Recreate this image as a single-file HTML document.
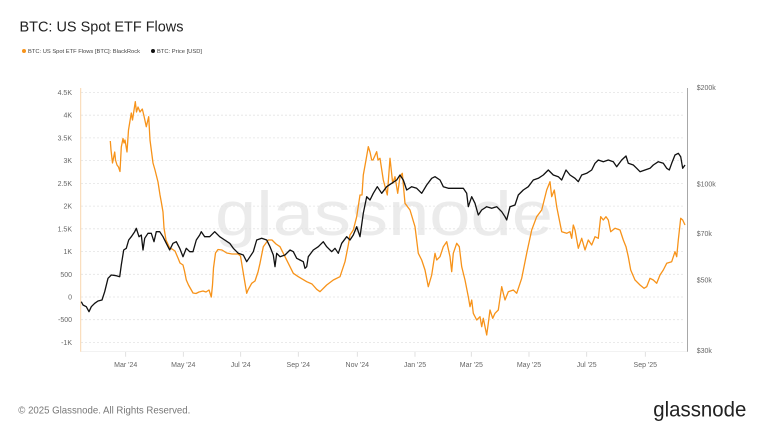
<!DOCTYPE html>
<html><head><meta charset="utf-8"><style>
html,body{margin:0;padding:0;background:#fff;}
svg{display:block;font-family:"Liberation Sans",sans-serif;}
</style></head><body>
<svg width="768" height="432" viewBox="0 0 768 432" xmlns="http://www.w3.org/2000/svg">
<rect width="768" height="432" fill="#fff"/>
<text x="19.5" y="31.7" font-size="14.6" fill="#222" textLength="164" lengthAdjust="spacingAndGlyphs">BTC: US Spot ETF Flows</text>
<circle cx="24" cy="51" r="2" fill="#f7931a"/>
<text x="28" y="53" font-size="5.8" fill="#444" textLength="112" lengthAdjust="spacingAndGlyphs">BTC: US Spot ETF Flows [BTC]: BlackRock</text>
<circle cx="153" cy="51" r="2" fill="#111"/>
<text x="157" y="53" font-size="5.8" fill="#444" textLength="45" lengthAdjust="spacingAndGlyphs">BTC: Price [USD]</text>

<text x="215" y="235" font-size="62" fill="#ebebeb" textLength="338" lengthAdjust="spacingAndGlyphs">glassnode</text>

<g stroke="#e3e3e3" stroke-width="0.8" stroke-dasharray="2 2">
<line x1="81" y1="92.5" x2="685" y2="92.5"/>
<line x1="81" y1="115.2" x2="685" y2="115.2"/>
<line x1="81" y1="137.9" x2="685" y2="137.9"/>
<line x1="81" y1="160.6" x2="685" y2="160.6"/>
<line x1="81" y1="183.4" x2="685" y2="183.4"/>
<line x1="81" y1="206.1" x2="685" y2="206.1"/>
<line x1="81" y1="228.8" x2="685" y2="228.8"/>
<line x1="81" y1="251.5" x2="685" y2="251.5"/>
<line x1="81" y1="274.3" x2="685" y2="274.3"/>
<line x1="81" y1="297" x2="685" y2="297"/>
<line x1="81" y1="319.7" x2="685" y2="319.7"/>
<line x1="81" y1="342.5" x2="685" y2="342.5"/>
</g>
<line x1="81" y1="351.5" x2="687" y2="351.5" stroke="#eeeeee" stroke-width="0.8"/>
<g stroke="#d8d8d8" stroke-width="0.8">
<line x1="125.7" y1="352" x2="125.7" y2="356.7"/>
<line x1="183.3" y1="352" x2="183.3" y2="356.7"/>
<line x1="240.7" y1="352" x2="240.7" y2="356.7"/>
<line x1="298.3" y1="352" x2="298.3" y2="356.7"/>
<line x1="357.3" y1="352" x2="357.3" y2="356.7"/>
<line x1="415" y1="352" x2="415" y2="356.7"/>
<line x1="471.3" y1="352" x2="471.3" y2="356.7"/>
<line x1="529" y1="352" x2="529" y2="356.7"/>
<line x1="586.7" y1="352" x2="586.7" y2="356.7"/>
<line x1="645.3" y1="352" x2="645.3" y2="356.7"/>
</g>
<line x1="80.7" y1="88" x2="80.7" y2="351.7" stroke="#f8d6ad" stroke-width="1"/>
<line x1="687.5" y1="88" x2="687.5" y2="351.7" stroke="#a8a8a8" stroke-width="1"/>

<g font-size="7" fill="#666" text-anchor="end">
<text x="72" y="95">4.5K</text>
<text x="72" y="117.7">4K</text>
<text x="72" y="140.4">3.5K</text>
<text x="72" y="163.1">3K</text>
<text x="72" y="185.9">2.5K</text>
<text x="72" y="208.6">2K</text>
<text x="72" y="231.3">1.5K</text>
<text x="72" y="254">1K</text>
<text x="72" y="276.8">500</text>
<text x="72" y="299.5">0</text>
<text x="72" y="322.2">-500</text>
<text x="72" y="345">-1K</text>
</g>
<g font-size="7" fill="#666">
<text x="696.7" y="89.8">$200k</text>
<text x="696.7" y="186.5">$100k</text>
<text x="696.7" y="235.8">$70k</text>
<text x="696.7" y="282.5">$50k</text>
<text x="696.7" y="353.2">$30k</text>
</g>
<g font-size="7" fill="#666" text-anchor="middle">
<text x="125.7" y="366.8">Mar '24</text>
<text x="183.3" y="366.8">May '24</text>
<text x="240.7" y="366.8">Jul '24</text>
<text x="298.3" y="366.8">Sep '24</text>
<text x="357.3" y="366.8">Nov '24</text>
<text x="415" y="366.8">Jan '25</text>
<text x="471.3" y="366.8">Mar '25</text>
<text x="529" y="366.8">May '25</text>
<text x="586.7" y="366.8">Jul '25</text>
<text x="645.3" y="366.8">Sep '25</text>
</g>

<polyline fill="none" stroke="#f7931a" stroke-width="1.3" stroke-linejoin="round" points="110.3,141 111,150 112.5,163 114.7,152 115.5,160 117,165 118.5,167 120,171.5 121.3,147 123,138.5 124,143 125,140 127,152 128.5,130 131.3,113 132.5,120 135.3,101.7 136.5,112 138,107 140,112 142.3,109 144,116 146.3,126.7 148.7,116.7 150,140 153,163 155,170 158,182 160,195 161.3,202 163,212 164,228 166,240 169.7,248 172,249 175,251 178,258 180,263 183,265 184.5,271 186.3,280 188.5,285 193,293 196,293.5 199,292 203,291 206,292 209,290 211.3,297 212.5,285 213.5,268 215.5,253 218,249.5 222,250 226.7,253 232,254 238,254 240.5,256 243.3,273 246.7,293.3 248,290 251.7,283.3 255,281 258,272 260,263.3 263.3,246.7 266,243 268.3,240 272,240 276,244 280,246.7 285,256.7 290,266.7 293.3,273.3 298.3,276.7 306.7,281.7 312,284 316.7,289.3 320,291.7 326.7,285 333.3,280 340,276.7 345,261.7 348.3,245 350,235 353.3,230 356.7,216.7 360,195 362,195 363.3,175 366,160 368.3,146.7 370,152 371.7,160 373,160 376.7,151.7 378,160 380,158.3 383.3,180 387.3,195 390,158.3 392.7,183.3 395,176.7 397.7,193.3 400,176.7 402.3,173.3 405,203.3 410,210 415,226.7 418.3,253.3 421.7,260 425,270 428.3,286.7 431.7,275 435,253.3 436.7,260 440,256.7 443.3,246.7 446.7,241.7 450,256.7 451.7,271.7 453.3,253.3 456.7,243.3 459.3,246.7 461.7,266.7 465,280 468.3,296.7 470,306.7 471.7,300 473.3,313.3 476.7,320 480,316.7 481.7,326.7 483.3,318.3 486.7,335 488.3,323.3 490,310 492.7,318.3 495,313.3 498.3,310 501.7,286.7 503.3,293.3 505,300 508.3,291.7 513.3,290 516.7,293.3 521.7,278.3 526.7,253.3 531.7,230 536.7,216.7 541.7,210 546.7,190 550,181.7 551.7,196.7 554.3,190 556.7,206.7 560,223.3 561.7,231.7 566.7,233.3 570,231.7 571.7,238.3 573.3,225 575,230 578.3,248.3 581.7,238.3 585,250 588.3,240 591.7,245 595,236.7 598.3,238.3 600.7,216.7 603.3,220 606,216.7 608.3,220 610.7,231.7 615,228.3 620,230 623.3,240 626,246.7 628.3,256.7 630.7,270 635,280 640,285 644,288.3 646.7,286.7 650,278.3 653.3,280 656.7,283.3 660,275 663.3,270 666.7,263.3 671.7,261.7 675,251.7 676.7,256.7 678.3,240 680.7,218.3 682.7,220 685,225"/>

<polyline fill="none" stroke="#111" stroke-width="1.3" stroke-linejoin="round" points="81.3,301.7 83,305 86.3,306.7 89,311.7 91.3,306.7 94.7,303.3 98,301 102,300 104.7,291.7 108,278.3 111.3,275 116.3,275.7 119.7,276.7 121.3,265 123.7,250 126.3,248.3 128.7,240 131.3,236.7 134.7,231.7 136.3,228.3 139,236.7 141.3,235 143,250 144.7,238.3 148,233.3 151.3,233.3 154,241.7 156.3,231.7 159.7,231.7 163,236.7 166.3,243.3 169.7,250 173,243.3 176.3,241.7 179.7,248.3 183,256.7 186.3,248.3 189.7,251.7 193,251.7 196.3,240 199.7,235 201.3,231.7 204.7,236.7 209.7,236.7 214.7,231.7 219.7,236.7 224.7,240 229.7,243.3 233.3,248.3 238.3,253.3 243.3,255 246.7,261.7 250,256.7 253.3,251.7 256.7,240 261.7,238.3 266.7,240 270,246.7 273.3,255 275,266.7 276.7,253.3 280,256.7 285,255 290,250 293.3,251.7 296.7,258.3 300,260 303.3,261.7 305,268.3 306.7,266.7 308.3,256.7 313.3,250 318.3,246.7 323.3,241.7 326.7,246.7 331.7,251.7 335,248.3 338.3,253.3 341.7,243.3 346.7,236.7 350,240 353.3,235 356.7,226.7 360,236.7 363.3,213.3 366.7,196.7 370,200 373.3,193.3 377.3,186.7 381.7,193.3 386.7,186.7 391.7,183.3 396.7,180 400,175 403.3,180 406.7,190 411.7,186.7 416.7,188.3 421.7,193.3 426.7,185 431.7,178.3 435,176.7 440,180 443.3,186.7 448.3,188.3 453.3,188.3 458.3,188.3 463.3,188.3 466.7,193.3 468.3,206.7 471.7,196.7 475,203.3 478.3,215 481.7,210 486.7,206.7 491.7,208.3 496.7,206.7 501.7,211.7 505,216.7 506.7,220 510,206.7 515,205 518.3,195 523.3,190 528.3,186.7 533.3,180 538.3,178.3 543.3,175 548.3,170 553.3,175 558.3,176.7 561.7,180 566,170 570,175 575,178.3 578.3,181.7 581.7,175 586.7,173.3 591.7,170 595,163.3 598.3,160 603.3,161.7 608.3,160 613.3,161.7 616.7,166.7 621.7,160 626,156 628.3,163.3 633.3,165 636.7,168.3 640,171.7 645,170 650,168.3 653.3,165 658.3,161.7 663.3,163.3 666.7,168.3 669.3,170 671.7,163.3 675,155 678.3,153.3 680.7,156.7 682.7,168.3 685,165"/>

<text x="18.3" y="413.5" font-size="10.5" fill="#777" textLength="172" lengthAdjust="spacingAndGlyphs">© 2025 Glassnode. All Rights Reserved.</text>
<text x="653.3" y="416.7" font-size="21" fill="#222" textLength="93" lengthAdjust="spacingAndGlyphs">glassnode</text>
</svg>
</body></html>
